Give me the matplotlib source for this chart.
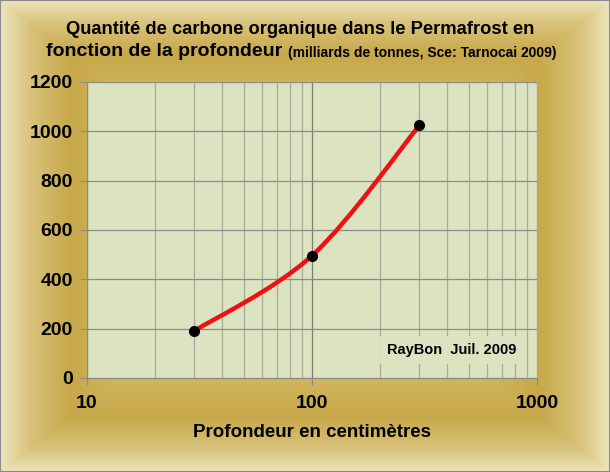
import numpy as np
import matplotlib
matplotlib.use("Agg")
import matplotlib.pyplot as plt
from matplotlib.colors import LinearSegmentedColormap
from matplotlib.path import Path
from matplotlib.patches import PathPatch, Rectangle

plt.rcParams['font.family'] = ['Liberation Sans', 'DejaVu Sans']
plt.rcParams['font.weight'] = 'bold'
plt.rcParams['axes.labelweight'] = 'bold'

# données Tarnocai 2009
depth = [30, 100, 300]          # cm
carbon = [191, 496, 1024]       # milliards de tonnes
y_ticks = [0, 200, 400, 600, 800, 1000, 1200]
x_ticks = [10, 100, 1000]

W, H = 610, 472
fig = plt.figure(figsize=(W / 100, H / 100), dpi=100)

# fond dégradé rectangulaire
bg = fig.add_axes([0, 0, 1, 1], zorder=-2)
xx, yy = np.meshgrid(np.arange(W) + 0.5, np.arange(H) + 0.5)
t = np.maximum(np.abs(xx - W / 2) / (W / 2), np.abs(yy - H / 2) / (H / 2))
cmap = LinearSegmentedColormap.from_list(
    "frame",
    [(0.0, "#ded08c"), (0.55, "#d3ba64"), (0.77, "#c7a84a"),
     (0.9, "#d8c27a"), (1.0, "#ede4bb")])
bg.imshow(t, cmap=cmap, vmin=0, vmax=1, aspect="auto", interpolation="bilinear")
bg.axis("off")
fig.patches.append(Rectangle((0, 0), 1, 1, transform=fig.transFigure,
                             fill=False, edgecolor="#8a8a8a", lw=1.5))

ax = fig.add_axes([87 / W, 1 - 378 / H, 450 / W, 296 / H])
ax.set_facecolor("#dbe3c1")
ax.set_xscale("log")
ax.set_xlim(10, 1000)
ax.set_ylim(0, 1200)
ax.set_yticks(y_ticks)
ax.set_xticks(x_ticks)
ax.set_xticklabels([str(v) for v in x_ticks])
ax.tick_params(axis="both", which="major", direction="out", length=5,
               color="#8a8a8a", labelsize=14, pad=5)
ax.tick_params(axis="x", which="minor", length=0)
ax.tick_params(axis="x", pad=7)
ax.xaxis.set_minor_formatter(plt.NullFormatter())
for s in ["top", "right"]:
    ax.spines[s].set_visible(False)
for s in ["left", "bottom"]:
    ax.spines[s].set_color("#8a8a8a")
ax.grid(True, axis="y", color="#8c8c84", lw=0.9)
ax.grid(True, axis="x", which="major", color="#7c7c70", lw=0.9)
ax.grid(True, axis="x", which="minor", color="#a9ab9a", lw=0.9)
ax.set_axisbelow(True)

# courbe lissée (Bézier dans l'espace log x / y)
u = np.log10(depth)
v = np.array(carbon, dtype=float)
pts = np.column_stack([u, v])
n = len(pts)
verts = [pts[0]]
codes = [Path.MOVETO]
for i in range(n - 1):
    p_prev = pts[max(i - 1, 0)]
    p0, p1 = pts[i], pts[i + 1]
    p_next = pts[min(i + 2, n - 1)]
    c1 = p0 + (p1 - p_prev) / 6
    c2 = p1 - (p_next - p0) / 6
    verts += [c1, c2, p1]
    codes += [Path.CURVE4] * 3
verts = np.array(verts)
verts[:, 0] = 10 ** verts[:, 0]
ax.add_patch(PathPatch(Path(verts, codes), fill=False, edgecolor="#ee1111",
                       lw=3.2, capstyle="round", joinstyle="round", zorder=3))
ax.plot(depth, carbon, "o", color="black", ms=7, zorder=4)

ax.text(0.955, 0.095, "RayBon  Juil. 2009", transform=ax.transAxes, ha="right",
        va="center", fontsize=10.5,
        bbox=dict(facecolor="#dbe3c1", edgecolor="none", pad=5))

ax.set_xlabel("Profondeur en centimètres", fontsize=13.5, labelpad=9)

fig.text(300 / W, 1 - 30 / H, "Quantité de carbone organique dans le Permafrost en",
         ha="center", va="center", fontsize=13.2)
t1 = fig.text(46 / W, 1 - 52 / H, "fonction de la profondeur ", ha="left",
              va="center", fontsize=14)
ax.annotate("(milliards de tonnes, Sce: Tarnocai 2009)", xy=(1, 0), xycoords=t1,
            ha="left", va="bottom", fontsize=10, annotation_clip=False)

fig.savefig("out.png", dpi=100)
